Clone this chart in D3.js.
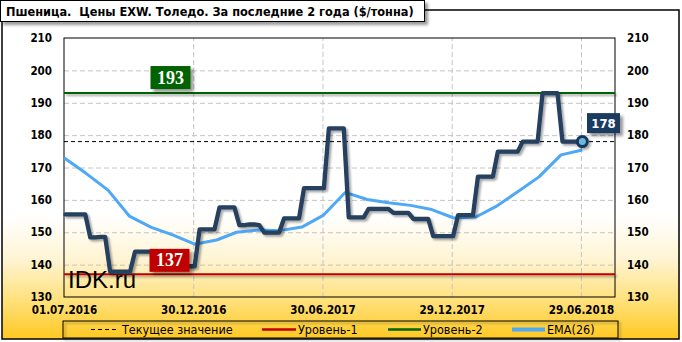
<!DOCTYPE html>
<html><head><meta charset="utf-8">
<script src="https://cdn.jsdelivr.net/npm/d3@7"></script>
<style>
html,body{margin:0;padding:0;background:#fff;}
svg{display:block;}
text{font-family:'DejaVu Sans Condensed','DejaVu Sans',sans-serif;}
</style></head><body>
<div id="chart"></div>
<script>
// ---------- data ----------
const titleText = "Пшеница.  Цены EXW. Толедо. За последние 2 года ($/тонна)";
const yTicks = [130, 140, 150, 160, 170, 180, 190, 200, 210];
const xTickLabels = ["01.07.2016", "30.12.2016", "30.06.2017", "29.12.2017", "29.06.2018"];
const xDomain = ["01.07.2016", "16.08.2018"];
const priceStart = "03.07.2016";   // weekly observations
const priceValues = [
  155.5,155.5,155.5,155.5,155.5,
  148.4,148.4,148.6,148.6,
  137.8,137.8,137.8,137.8,137.8,
  144,144,144,144,144,144,144,144,
  139.5,139.5,139.5,139.5,139.5,
  150.9,150.9,150.9,150.9,
  157.7,157.7,157.7,157.7,
  152.2,152.2,152.4,152.4,152.2,
  149.9,149.9,149.9,149.9,
  154.3,154.3,154.3,154.3,
  163.6,163.6,163.6,163.6,163.6,
  182.1,182.1,182.1,182.1,
  154.6,154.6,154.6,154.6,
  157.2,157.2,157.2,157.2,157.2,
  156.0,156.0,156.0,156.0,
  154.1,154.1,154.1,154.1,
  148.8,148.8,148.8,148.8,148.8,
  155.3,155.3,155.3,155.3,
  167.2,167.2,167.2,167.2,
  174.9,174.9,174.9,174.9,174.9,
  178,178,178,178,
  193,193,193,193,
  178,178,178,178,178
];
const emaStart = "01.07.2016";     // monthly EMA(26) points
const emaValues = [
  173, 168.2, 163, 155, 151.5, 149.2, 146.3, 147.6, 150, 150.7, 150.5, 151.6,
  155.2, 162.3, 160.1, 159.1, 158.3, 157.0, 154.4, 154.7, 157.9, 162.5, 167.1, 173.9, 175.4
];
const level1 = 137;
const level2 = 193;
const currentValue = 178;
const legendLabels = ["Текущее значение", "Уровень-1", "Уровень-2", "EMA(26)"];
const watermark = "IDK.ru";

// ---------- setup ----------
const W = 682, H = 342;
const M = {left: 64, right: 615, top: 38, bottom: 297};
const parse = d3.timeParse("%d.%m.%Y");
const fmt = d3.timeFormat("%d.%m.%Y");

const priceData = priceValues.map((v, i) => ({date: d3.timeDay.offset(parse(priceStart), 7 * i), v}));
const emaData = emaValues.map((v, i) => ({date: d3.timeMonth.offset(parse(emaStart), i), v}));

const x = d3.scaleTime().domain(xDomain.map(parse)).range([M.left, M.right]);
const y = d3.scaleLinear().domain([130, 210]).range([M.bottom, M.top]);

const svg = d3.select("#chart").append("svg").attr("width", W).attr("height", H);
const defs = svg.append("defs");
const grad = defs.append("linearGradient").attr("id", "bg")
  .attr("gradientUnits", "userSpaceOnUse").attr("x1", 0).attr("y1", 0).attr("x2", 0).attr("y2", H);
[[0, "#ffffff"], [0.63, "#ffffff"], [0.76, "#fff4d2"], [0.88, "#ffe07a"], [1, "#ffc71a"]]
  .forEach(([o, c]) => grad.append("stop").attr("offset", o).attr("stop-color", c));
const sh = defs.append("filter").attr("id", "sh").attr("filterUnits", "userSpaceOnUse")
  .attr("x", 0).attr("y", 0).attr("width", W).attr("height", H);
sh.append("feDropShadow").attr("dx", 2).attr("dy", 2).attr("stdDeviation", 1.2)
  .attr("flood-color", "#000").attr("flood-opacity", 0.35);
const sh2 = defs.append("filter").attr("id", "sh2").attr("filterUnits", "userSpaceOnUse")
  .attr("x", 0).attr("y", 0).attr("width", W).attr("height", H);
sh2.append("feDropShadow").attr("dx", 3).attr("dy", 3).attr("stdDeviation", 1.5)
  .attr("flood-color", "#000").attr("flood-opacity", 0.4);

// background + outer frame
svg.append("rect").attr("x", 0).attr("y", 0).attr("width", W).attr("height", H).attr("fill", "#fff");
svg.append("rect").attr("x", 2).attr("y", 10).attr("width", 677).attr("height", 329)
  .attr("fill", "url(#bg)").attr("stroke", "#000").attr("stroke-width", 1.5);

// grid
svg.append("g").attr("transform", `translate(${M.left},0)`)
  .call(d3.axisLeft(y).tickValues(yTicks.slice(1, -1)).tickSize(-(M.right - M.left)).tickFormat(""))
  .call(g => g.select(".domain").remove())
  .call(g => g.selectAll("line").attr("stroke", "#c4c4c4").attr("stroke-dasharray", "5,3"));
svg.append("g").attr("transform", `translate(0,${M.bottom})`)
  .call(d3.axisBottom(x).tickValues(xTickLabels.slice(1).map(parse)).tickSize(-(M.bottom - M.top)).tickFormat(""))
  .call(g => g.select(".domain").remove())
  .call(g => g.selectAll("line").attr("stroke", "#c4c4c4").attr("stroke-dasharray", "5,3"));

// plot border
svg.append("rect").attr("x", M.left).attr("y", M.top).attr("width", M.right - M.left)
  .attr("height", M.bottom - M.top).attr("fill", "none").attr("stroke", "#000").attr("stroke-width", 1);

// axes labels
const axisFont = g => g.selectAll("text").attr("font-size", "11.5px").attr("font-weight", "bold").attr("fill", "#000")
  .style("font-family", "'DejaVu Sans Condensed','DejaVu Sans',sans-serif");
svg.append("g").attr("transform", `translate(${M.left},0)`)
  .call(d3.axisLeft(y).tickValues(yTicks).tickSize(0).tickPadding(12))
  .call(g => g.select(".domain").remove()).call(axisFont);
svg.append("g").attr("transform", `translate(${M.right},0)`)
  .call(d3.axisRight(y).tickValues(yTicks).tickSize(0).tickPadding(12))
  .call(g => g.select(".domain").remove()).call(axisFont);
svg.append("g").attr("transform", `translate(0,${M.bottom})`)
  .call(d3.axisBottom(x).tickValues(xTickLabels.map(parse)).tickFormat(fmt).tickSize(0).tickPadding(8.5))
  .call(g => g.select(".domain").remove()).call(axisFont);

// level lines
svg.append("line").attr("x1", M.left).attr("x2", M.right).attr("y1", y(level2)).attr("y2", y(level2))
  .attr("stroke", "#006400").attr("stroke-width", 2).attr("filter", "url(#sh)");
svg.append("line").attr("x1", M.left).attr("x2", M.right).attr("y1", y(level1)).attr("y2", y(level1))
  .attr("stroke", "#c00000").attr("stroke-width", 2).attr("filter", "url(#sh)");
svg.append("line").attr("x1", M.left).attr("x2", M.right).attr("y1", y(currentValue)).attr("y2", y(currentValue))
  .attr("stroke", "#000").attr("stroke-width", 1).attr("stroke-dasharray", "4,3");

// EMA
const line = d3.line().x(d => x(d.date)).y(d => y(d.v));
svg.append("path").datum(emaData).attr("d", line).attr("fill", "none")
  .attr("stroke", "#4ea8f6").attr("stroke-width", 3).attr("stroke-linejoin", "round");

// price
svg.append("path").datum(priceData).attr("d", line).attr("fill", "none")
  .attr("stroke", "#253f60").attr("stroke-width", 4.3).attr("stroke-linejoin", "round")
  .attr("stroke-linecap", "round").attr("filter", "url(#sh)");

// end marker
const last = priceData[priceData.length - 1];
svg.append("circle").attr("cx", x(last.date)).attr("cy", y(last.v)).attr("r", 5)
  .attr("fill", "#6cb8d8").attr("stroke", "#17355f").attr("stroke-width", 3).attr("filter", "url(#sh)");

// watermark
svg.append("text").attr("x", 68).attr("y", 288).text(watermark)
  .style("font-family", "'Liberation Sans',Arial,sans-serif").attr("font-size", "24px").attr("fill", "#000");

// level labels
function levelLabel(val, fill, cx, dy) {
  const cy = y(val) + dy;
  svg.append("rect").attr("x", cx - 20).attr("y", cy - 11.5).attr("width", 40).attr("height", 23)
    .attr("fill", fill).attr("filter", "url(#sh2)");
  svg.append("text").attr("x", cx).attr("y", cy).attr("text-anchor", "middle").attr("dominant-baseline", "central")
    .style("font-family", "'Liberation Serif','Times New Roman',serif").attr("font-weight", "bold")
    .attr("font-size", "18px").attr("fill", "#fff").text(val);
}
levelLabel(level2, "#006400", 170.5, -15.5);
levelLabel(level1, "#c00000", 169.5, -14);

// current value label
{
  const cy = y(currentValue) - 18.5;
  svg.append("rect").attr("x", 587).attr("y", cy - 10).attr("width", 33).attr("height", 20)
    .attr("fill", "#1c3a60").attr("filter", "url(#sh2)");
  svg.append("text").attr("x", 603.5).attr("y", cy).attr("text-anchor", "middle").attr("dominant-baseline", "central")
    .attr("font-weight", "bold").attr("font-size", "13px").attr("fill", "#fff").text(currentValue);
}

// legend
svg.append("rect").attr("x", 63).attr("y", 321).attr("width", 555).attr("height", 17)
  .attr("fill", "none").attr("stroke", "#000").attr("stroke-width", 1).attr("filter", "url(#sh)");
const ly = 329.5;
const legendItems = [
  {x1: 91, x2: 118, tx: 122, color: "#000", w: 1, dash: "4,3"},
  {x1: 262, x2: 296, tx: 298, color: "#c00000", w: 2.5},
  {x1: 388, x2: 421, tx: 423, color: "#006400", w: 2.5},
  {x1: 512, x2: 545, tx: 547, color: "#4ea8f6", w: 4}
];
legendItems.forEach((it, i) => {
  svg.append("line").attr("x1", it.x1).attr("x2", it.x2).attr("y1", ly).attr("y2", ly)
    .attr("stroke", it.color).attr("stroke-width", it.w).attr("stroke-dasharray", it.dash || null);
  svg.append("text").attr("x", it.tx).attr("y", ly).attr("dominant-baseline", "central")
    .attr("font-size", "12.5px").attr("fill", "#000").text(legendLabels[i]);
});

// title box
svg.append("rect").attr("x", 0.5).attr("y", 0.5).attr("width", 424).attr("height", 21)
  .attr("fill", "#fff").attr("stroke", "#000").attr("stroke-width", 1).attr("filter", "url(#sh2)");
const t = svg.append("text").attr("x", 6).attr("y", 11.5).attr("dominant-baseline", "central")
  .attr("font-weight", "bold").attr("font-size", "13px").attr("fill", "#000")
  .style("white-space", "pre").text(titleText);
const tw = t.node().getComputedTextLength();
t.attr("font-size", (13 * 408 / tw).toFixed(2) + "px");
</script></body></html>
